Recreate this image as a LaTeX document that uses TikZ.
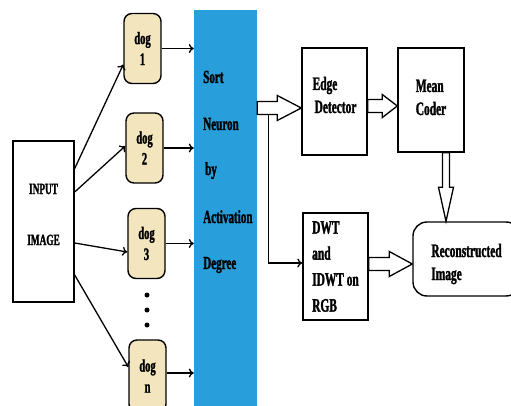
\documentclass[tikz,border=0pt]{standalone}
\usepackage{fontspec}
\setmainfont{Liberation Serif}[FakeStretch=0.6, BoldFeatures={FakeBold=1.5}]
\usetikzlibrary{arrows.meta, positioning, calc}
\definecolor{dogfill}{RGB}{243,230,190}
\definecolor{barblue}{RGB}{40,159,218}
\tikzset{
    flowdiagram/.style={>={To[length=5pt,width=9pt]}, x=1pt, y=-1pt},
    box/.style={draw, line width=1.4pt, align=center, inner sep=0pt, font=\bfseries\fontsize{19}{23}\selectfont},
    dogbox/.style={box, fill=dogfill, rounded corners=8pt, minimum width=37pt, minimum height=70pt, font=\bfseries\fontsize{17.5}{21}\selectfont},
    bar/.style={fill=barblue, inner sep=0pt, minimum width=63pt, minimum height=396pt},
    barlabel/.style={anchor=base west, inner sep=0pt, font=\bfseries\fontsize{18.5}{22}\selectfont},
    link/.style={->, line width=1.3pt},
    fat/.style={draw, fill=white, line width=1.3pt, line join=miter},
    vdot/.style={fill, circle, inner sep=0pt, minimum size=5pt},
}
% hollow block arrow: start, end, shaft half width, head half width, head length
\newcommand{\fatarrow}[5]{%
    \coordinate (fa-b) at ($(#2)!#5!(#1)$);
    \draw[fat] ($(#1)!#3!90:(#2)$) -- ($(fa-b)!#3!90:(#2)$) -- ($(fa-b)!#4!90:(#2)$)
        -- (#2) -- ($(fa-b)!#4!-90:(#2)$) -- ($(fa-b)!#3!-90:(#2)$) -- ($(#1)!#3!-90:(#2)$) -- cycle;
}

\begin{document}
\begin{tikzpicture}[flowdiagram]
    \useasboundingbox (0,0) rectangle (511,406);
    \clip (0,0) rectangle (511,406);

    \node[box, minimum width=61pt, minimum height=161pt, text height=61pt, text depth=14pt, font=\bfseries\fontsize{15.5}{51}\selectfont] (input) at (43.5,221.5) {INPUT\\IMAGE};
    \node[dogbox]                    (dog1) at (142.5,48.5) {dog\\1};
    \node[dogbox]                    (dog2) at (144.5,148)  {dog\\2};
    \node[dogbox]                    (dog3) at (146.5,243.5) {dog\\3};
    \node[dogbox, minimum height=72pt] (dogn) at (147.5,376) {dog\\n};
    \node[vdot] (dot1) at (147,295) {};
    \node[vdot] (dot2) at (147,310) {};
    \node[vdot] (dot3) at (147,325) {};

    \node[bar] (bar) at (225.5,208) {};
    \node[barlabel] (sort)   at (203,83)  {Sort};
    \node[barlabel] (neuron) at (203,130) {Neuron};
    \node[barlabel] (by)     at (205,175) {by};
    \node[barlabel] (activ)  at (203,223) {Activation};
    \node[barlabel] (degree) at (203,269) {Degree};

    \node[box, align=left, minimum width=65pt, minimum height=107pt, text height=36pt, text depth=13pt] (edge) at (334.5,101.5) {Edge\\\hspace{2pt}Detector};
    \node[box, align=left, minimum width=66pt, minimum height=104pt, text height=36pt, text depth=6pt] (mean) at (431,100) {Mean\\Coder};
    \node[box, align=left, minimum width=65pt, minimum height=107pt, font=\bfseries\fontsize{19}{26}\selectfont] (dwt) at (335.5,266.5) {DWT\\{}and\\IDWT on\\RGB};
    \node[box, align=left, rounded corners=14pt, minimum width=107pt, minimum height=74pt, text height=46pt, text depth=4pt] (recon) at (466.5,259) {Reconstructed\\Image};

    % input image to the filters
    \draw[link] ([yshift=53pt]input.east) -- ([yshift=-16pt]dog1.west);
    \draw[link] ([yshift=29.5pt]input.east) -- ([yshift=2pt]dog2.west);
    \draw[link] ([yshift=-21.5pt]input.east) -- ([yshift=-8.5pt]dog3.west);
    \draw[link] ([yshift=-53.5pt]input.east) -- ([yshift=9pt]dogn.west);

    % filters into the sorting bar
    \draw[link] (dog1.east) -- (dog1.east -| bar.west);
    \draw[link] (dog2.east) -- (dog2.east -| bar.west);
    \draw[link] (dog3.east) -- (dog3.east -| bar.west);
    \draw[link] ([yshift=3pt]dogn.east) -- ([yshift=3pt]dogn.east -| bar.west);

    % block arrows
    \coordinate (fa1e) at ($(edge.west)+(0,6.5)$);
    \coordinate (fa1s) at (fa1e -| bar.east);
    \coordinate (tap) at ($(fa1s)+(11,6.5)$);
    \draw[link] (tap) |- ([yshift=3.5pt]dwt.west);
    \fatarrow{fa1s}{fa1e}{6.5pt}{12.5pt}{24pt}

    \coordinate (fa2s) at ($(edge.east)+(0,4.5)$);
    \coordinate (fa2e) at (fa2s -| mean.west);
    \fatarrow{fa2s}{fa2e}{6.5pt}{11.5pt}{15pt}

    \coordinate (fa3s) at ($(mean.south)+(15,0)$);
    \coordinate (fa3e) at (fa3s |- recon.north);
    \fatarrow{fa3s}{fa3e}{3.5pt}{7.5pt}{34pt}

    \coordinate (fa4s) at ($(dwt.east)+(0,-2.5)$);
    \coordinate (fa4e) at (fa4s -| recon.west);
    \fatarrow{fa4s}{fa4e}{6.5pt}{12.5pt}{23pt}
\end{tikzpicture}
\end{document}
